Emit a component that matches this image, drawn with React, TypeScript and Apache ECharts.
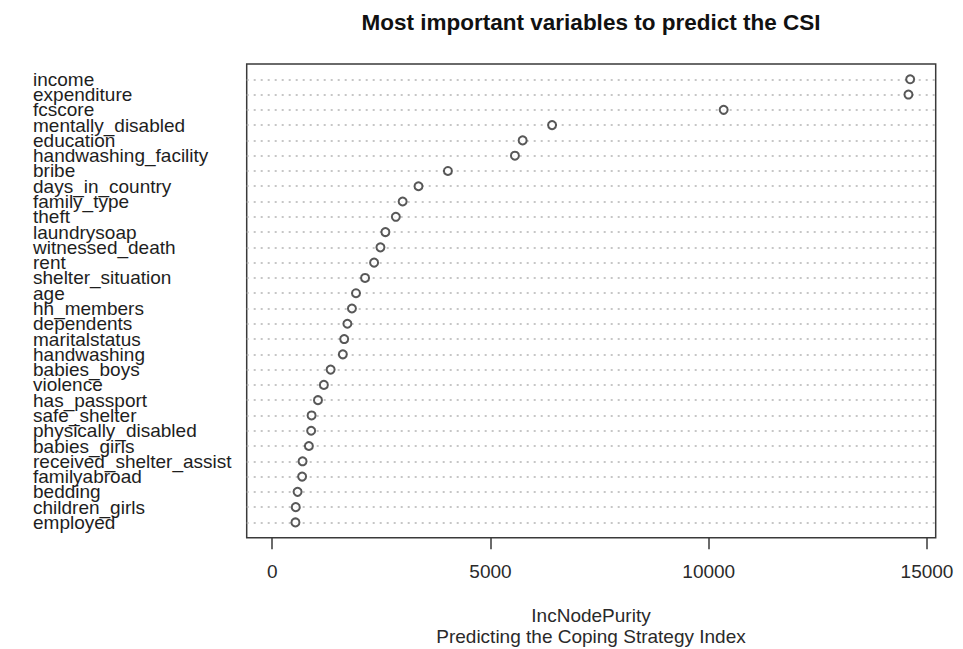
import React, { useEffect, useRef } from "react";
import * as echarts from "echarts";

const variables = [
  "income", "expenditure", "fcscore", "mentally_disabled", "education",
  "handwashing_facility", "bribe", "days_in_country", "family_type", "theft",
  "laundrysoap", "witnessed_death", "rent", "shelter_situation", "age",
  "hh_members", "dependents", "maritalstatus", "handwashing", "babies_boys",
  "violence", "has_passport", "safe_shelter", "physically_disabled", "babies_girls",
  "received_shelter_assist", "familyabroad", "bedding", "children_girls", "employed",
];
const incNodePurity = [
  14615, 14575, 10342, 6411, 5737,
  5560, 4025, 3351, 2988, 2832,
  2593, 2479, 2334, 2127, 1919,
  1826, 1722, 1649, 1618, 1338,
  1183, 1048, 902, 892, 840,
  695, 685, 581, 539, 532,
];
const xTicks = [0, 5000, 10000, 15000];
const titleText = "Most important variables to predict the CSI";
const xTitle = "IncNodePurity";
const subTitle = "Predicting the Coping Strategy Index";

export default function App() {
  const ref = useRef<HTMLDivElement>(null);
  useEffect(() => {
    if (!ref.current) return;
    const chart = echarts.init(ref.current, undefined, { renderer: "svg" });
    const n = variables.length;
    const maxV = Math.max(...incNodePurity);
    const points = incNodePurity.map((v, i) => [v, n - i]);
    const rowValues = variables.map((_, i) => n - i);
    const font = "'Liberation Sans', Arial, sans-serif";
    const makeYAxis = (vals: number[]) => ({
      type: "value",
      position: "left",
      offset: 0,
      min: 0,
      max: n + 1,
      axisLine: { show: false },
      axisTick: { show: false },
      splitLine: { show: false },
      axisLabel: {
        customValues: vals,
        showMinLabel: true,
        showMaxLabel: true,
        hideOverlap: false,
        formatter: (v: number) => variables[n - v] ?? "",
        align: "left",
        margin: 246.7 - 33,
        fontSize: 19,
        color: "#1e1e1e",
        fontFamily: font,
      },
    });
    chart.setOption({
      animation: false,
      backgroundColor: "#ffffff",
      grid: {
        left: 246.7,
        right: 963 - 935.7,
        top: 64,
        bottom: 649 - 537.7,
        show: true,
        borderColor: "#3a3a3a",
        borderWidth: 1.5,
        backgroundColor: "transparent",
      },
      xAxis: {
        type: "value",
        min: -0.04 * maxV,
        max: 1.04 * maxV,
        axisLine: { show: false },
        splitLine: { show: false },
        axisTick: {
          show: true,
          customValues: xTicks,
          length: 11.5,
          lineStyle: { color: "#3a3a3a", width: 1.5 },
        },
        axisLabel: {
          customValues: xTicks,
          showMinLabel: true,
          showMaxLabel: true,
          formatter: (v: number) => String(v),
          margin: 24,
          fontSize: 19,
          color: "#2a2a2a",
          fontFamily: font,
        },
      },
      yAxis: [
        makeYAxis(rowValues.filter((_, i) => i % 2 === 0)),
        makeYAxis(rowValues.filter((_, i) => i % 2 === 1)),
      ],
      series: [
        {
          type: "scatter",
          data: points,
          symbolSize: 0,
          silent: true,
          z: 1,
          markLine: {
            silent: true,
            symbol: ["none", "none"],
            label: { show: false },
            lineStyle: { type: [2, 5], color: "#b4b4b4", width: 1.6 },
            data: rowValues.map((y) => ({ yAxis: y })),
          },
        },
        {
          type: "scatter",
          data: points,
          symbol: "emptyCircle",
          symbolSize: 8,
          z: 5,
          itemStyle: { color: "#2e2e2e", borderColor: "#2e2e2e", borderWidth: 1.9 },
        },
      ],
      graphic: [
        {
          type: "text",
          x: 591,
          y: 22,
          style: {
            text: titleText,
            fontSize: 22.5,
            fontWeight: "bold",
            fontFamily: font,
            fill: "#111111",
            textAlign: "center",
            textVerticalAlign: "middle",
          },
        },
        {
          type: "text",
          x: 591,
          y: 615,
          style: {
            text: xTitle,
            fontSize: 19,
            fontFamily: font,
            fill: "#2a2a2a",
            textAlign: "center",
            textVerticalAlign: "middle",
          },
        },
        {
          type: "text",
          x: 591,
          y: 636,
          style: {
            text: subTitle,
            fontSize: 19,
            fontFamily: font,
            fill: "#2a2a2a",
            textAlign: "center",
            textVerticalAlign: "middle",
          },
        },
      ],
    });
    return () => chart.dispose();
  }, []);
  return (
    <div
      ref={ref}
      style={{ position: "fixed", left: 0, top: 0, width: 963, height: 649, background: "#fff" }}
    />
  );
}
